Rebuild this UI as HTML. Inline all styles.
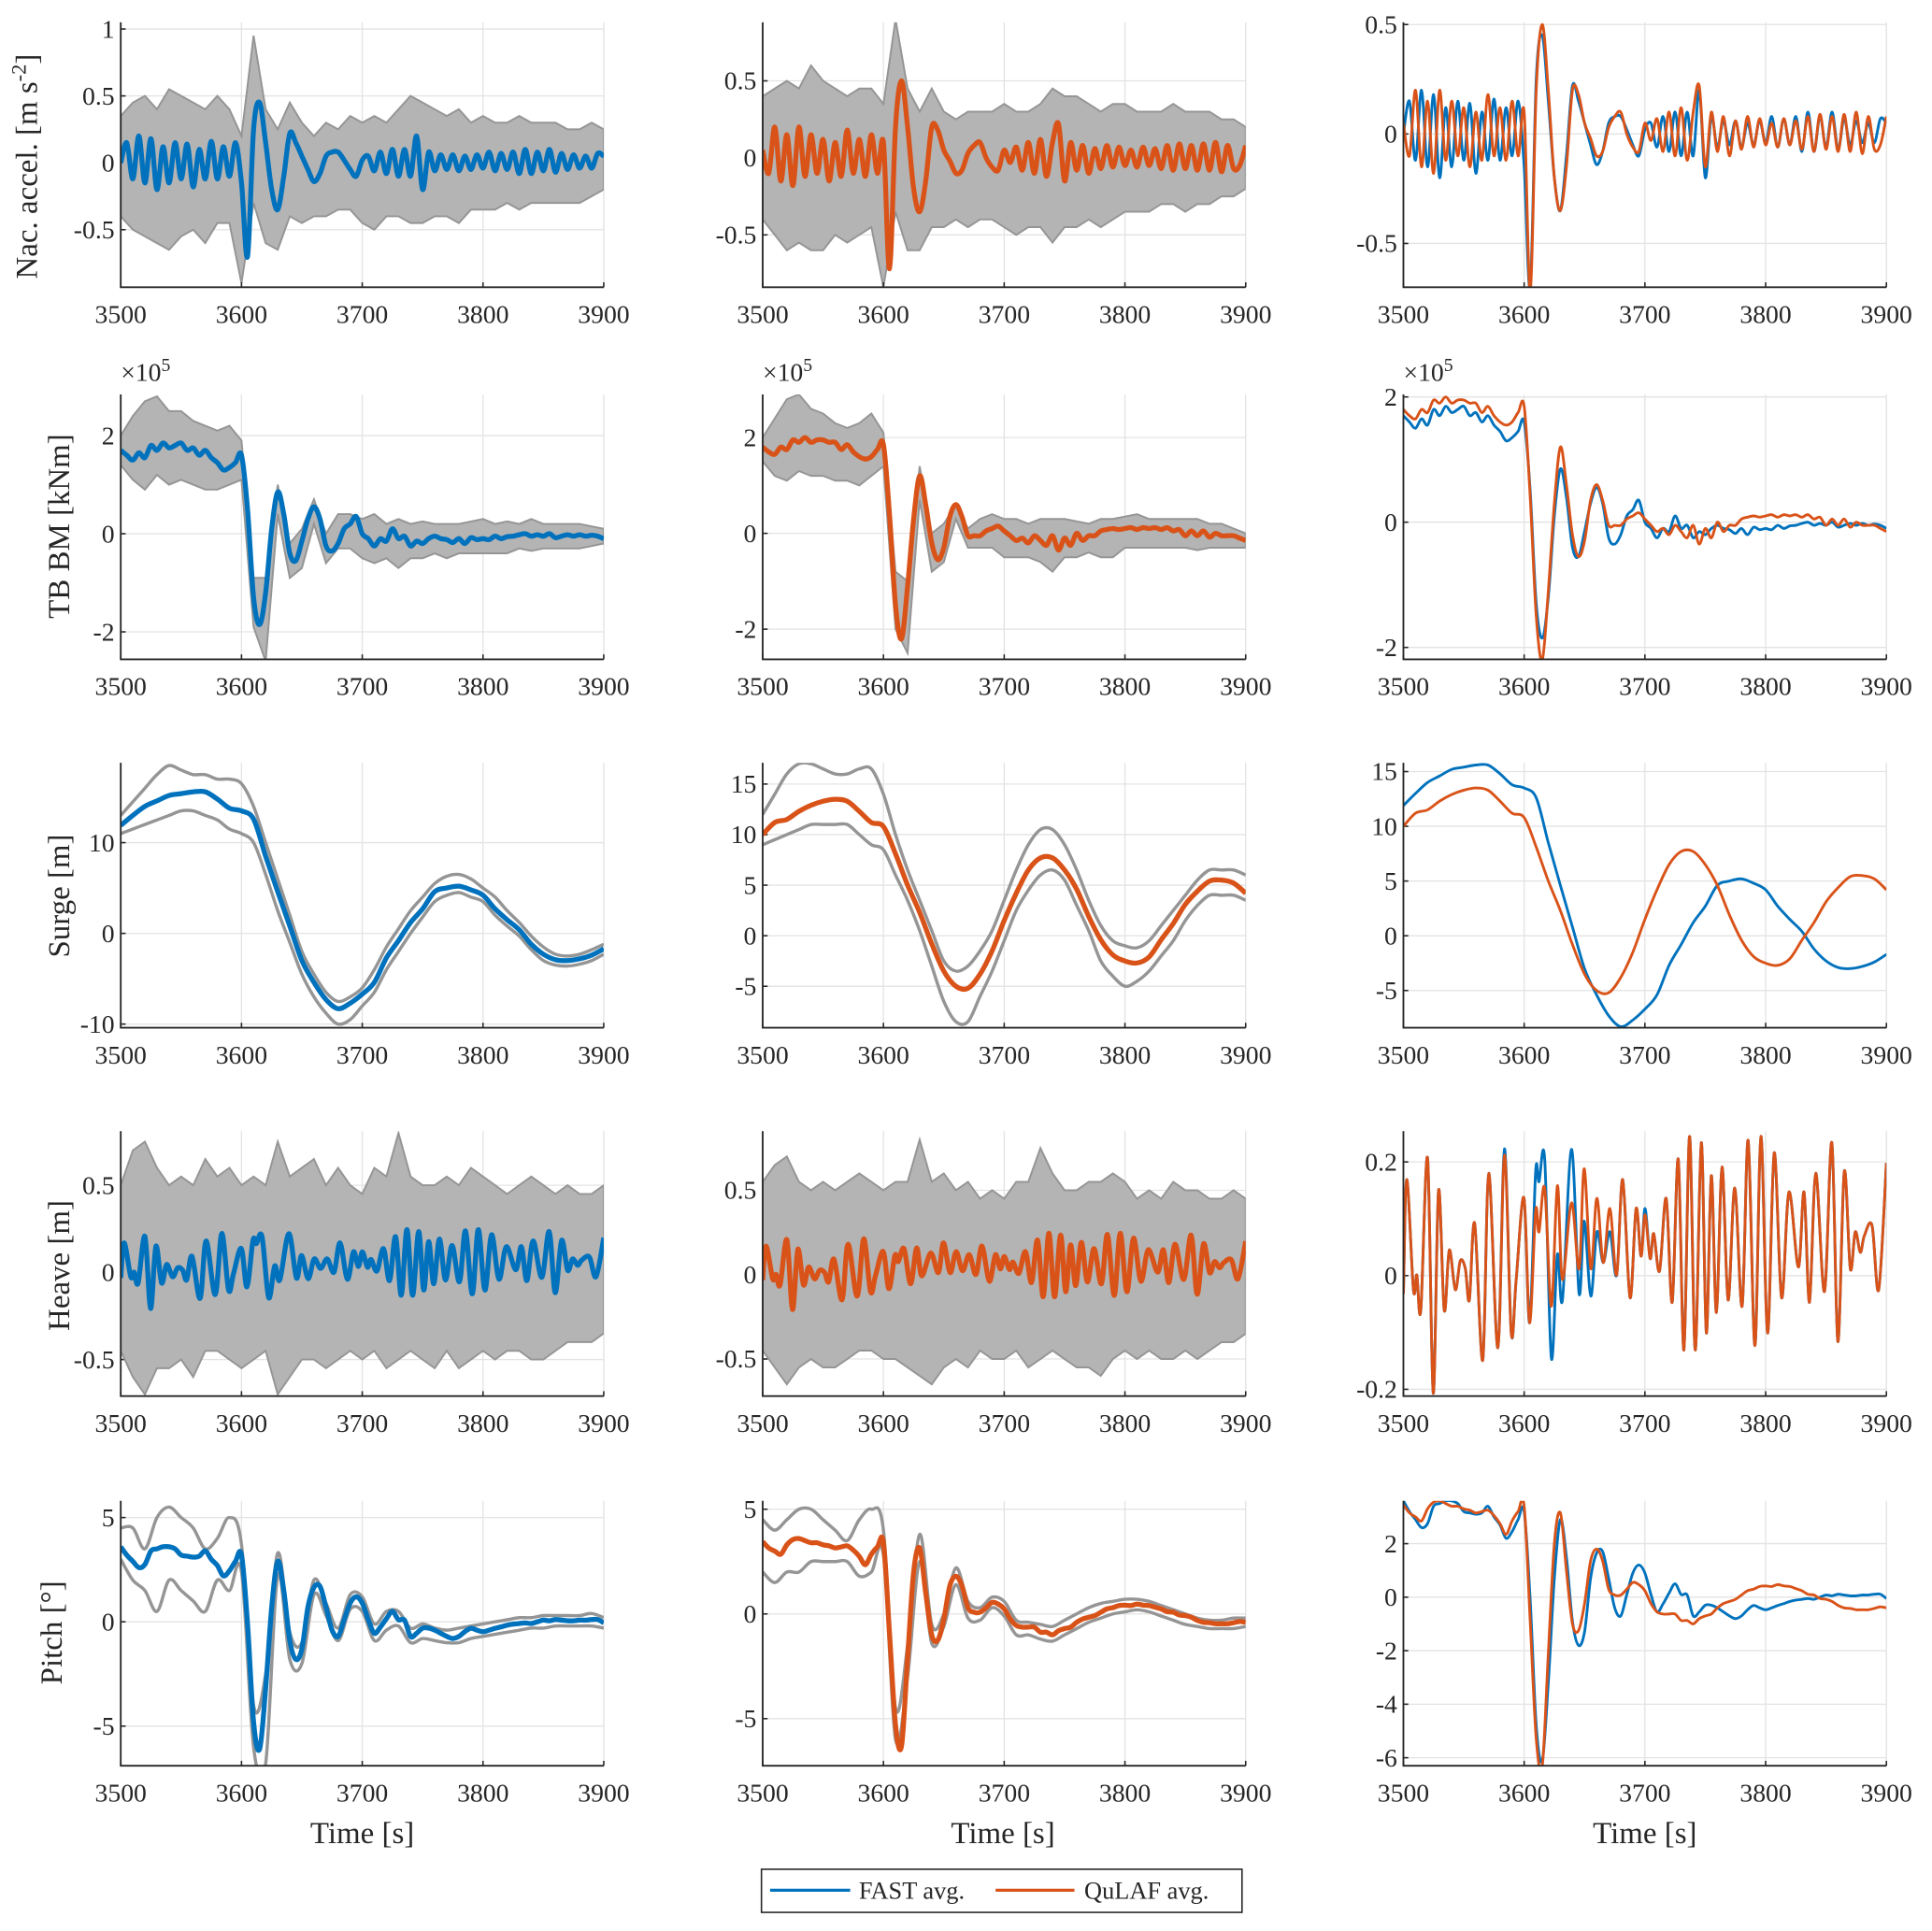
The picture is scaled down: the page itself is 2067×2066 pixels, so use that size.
<!DOCTYPE html>
<html><head><meta charset="utf-8">
<style>
html,body{margin:0;padding:0;background:#fff;}
svg{display:block;font-family:"Liberation Serif",serif;}
</style></head>
<body>
<svg id="fig" xmlns="http://www.w3.org/2000/svg" width="2067" height="2066" viewBox="0 0 1568 1567">
<rect x="0" y="0" width="1568" height="1567" fill="#fff"/>
<g id="panels"></g>
<text x="30" y="135" transform="rotate(-90 30 135)" text-anchor="middle" font-size="25" fill="#262626">Nac. accel. [m s<tspan dy="-9" font-size="17">-2</tspan><tspan dy="9">]</tspan></text>
<text x="56" y="427" transform="rotate(-90 56 427)" text-anchor="middle" font-size="25" fill="#262626">TB BM [kNm]</text>
<text x="56" y="727" transform="rotate(-90 56 727)" text-anchor="middle" font-size="25" fill="#262626">Surge [m]</text>
<text x="56" y="1027" transform="rotate(-90 56 1027)" text-anchor="middle" font-size="25" fill="#262626">Heave [m]</text>
<text x="50" y="1325" transform="rotate(-90 50 1325)" text-anchor="middle" font-size="25" fill="#262626">Pitch [°]</text>
<text x="98" y="309" font-size="21" fill="#262626">×10<tspan dy="-8" font-size="15">5</tspan></text>
<text x="619" y="309" font-size="21" fill="#262626">×10<tspan dy="-8" font-size="15">5</tspan></text>
<text x="1139" y="309" font-size="21" fill="#262626">×10<tspan dy="-8" font-size="15">5</tspan></text>
<text x="294" y="1496" text-anchor="middle" font-size="25" fill="#262626">Time [s]</text>
<text x="814" y="1496" text-anchor="middle" font-size="25" fill="#262626">Time [s]</text>
<text x="1335" y="1496" text-anchor="middle" font-size="25" fill="#262626">Time [s]</text>
<g>
<rect x="618" y="1517" width="390" height="35" fill="#fff" stroke="#262626" stroke-width="1.2"/>
<line x1="625" y1="1534" x2="690" y2="1534" stroke="#0072BD" stroke-width="2.5"/>
<text x="697" y="1541" font-size="20" fill="#262626">FAST avg.</text>
<line x1="808" y1="1534" x2="872" y2="1534" stroke="#D95319" stroke-width="2.5"/>
<text x="880" y="1541" font-size="20" fill="#262626">QuLAF avg.</text>
</g>
</svg>
<script>
// ---------- data (5-s grids 3500..3900 unless noted) ----------
const xTicks = [3500,3600,3700,3800,3900];

const accelF = [0,0.15,-0.12,0.2,-0.15,0.18,-0.2,0.12,-0.15,0.15,
 -0.12,0.14,-0.18,0.1,-0.12,0.16,-0.12,0.12,-0.1,0.15,
 -0.15,-0.7,0.25,0.45,0.15,-0.2,-0.35,-0.1,0.22,0.15,
 0.05,-0.05,-0.14,-0.08,0.05,0.08,0.08,0.02,-0.05,-0.1,
 0.02,0.05,-0.06,0.08,-0.08,0.1,-0.1,0.1,-0.1,0.2,
 -0.2,0.08,-0.06,0.06,-0.05,0.06,-0.06,0.05,-0.05,0.06,
 -0.04,0.08,-0.06,0.07,-0.05,0.08,-0.08,0.1,-0.08,0.08,
 -0.06,0.1,-0.07,0.07,-0.05,0.06,-0.04,0.05,-0.04,0.07,
 0.05];
const accelQ = [0.05,-0.1,0.2,-0.15,0.15,-0.18,0.2,-0.12,0.15,-0.1,
 0.12,-0.15,0.1,-0.12,0.18,-0.1,0.12,-0.12,0.15,-0.1,
 0.1,-0.72,0.2,0.5,0.2,-0.2,-0.35,-0.15,0.2,0.18,
 0.05,-0.02,-0.1,-0.08,0.03,0.08,0.1,0.0,-0.06,-0.08,
 0.05,-0.03,0.07,-0.08,0.1,-0.1,0.12,-0.12,0.1,0.22,
 -0.15,0.1,-0.08,0.08,-0.1,0.06,-0.07,0.08,-0.06,0.07,
 -0.05,0.05,-0.06,0.07,-0.05,0.06,-0.07,0.08,-0.08,0.09,
 -0.07,0.08,-0.08,0.09,-0.08,0.1,-0.09,0.08,-0.07,-0.05,
 0.08];
const accelFHi = [0.35,0.45,0.5,0.4,0.55,0.5,0.45,0.4,0.5,0.4, 0.2,0.95,0.4,0.25,0.45,0.3,0.2,0.3,0.25,0.35, 0.3,0.35,0.3,0.4,0.5,0.45,0.4,0.35,0.4,0.3, 0.35,0.3,0.3,0.35,0.3,0.3,0.3,0.25,0.25,0.3, 0.25];
const accelFLo = [-0.4,-0.5,-0.55,-0.6,-0.65,-0.55,-0.5,-0.6,-0.45,-0.45, -0.9,-0.3,-0.6,-0.65,-0.4,-0.45,-0.4,-0.4,-0.35,-0.35, -0.45,-0.5,-0.4,-0.4,-0.45,-0.45,-0.4,-0.4,-0.45,-0.35, -0.35,-0.35,-0.3,-0.35,-0.3,-0.3,-0.3,-0.3,-0.3,-0.25, -0.2];
const accelQHi = [0.4,0.45,0.5,0.45,0.6,0.5,0.45,0.4,0.45,0.45, 0.35,0.9,0.45,0.3,0.45,0.3,0.25,0.3,0.3,0.3, 0.35,0.3,0.3,0.35,0.45,0.4,0.4,0.35,0.3,0.35, 0.35,0.3,0.3,0.3,0.35,0.3,0.3,0.3,0.25,0.25, 0.2];
const accelQLo = [-0.4,-0.5,-0.6,-0.55,-0.6,-0.6,-0.5,-0.55,-0.5,-0.45, -0.84,-0.35,-0.6,-0.6,-0.45,-0.45,-0.4,-0.45,-0.4,-0.4, -0.45,-0.5,-0.45,-0.45,-0.55,-0.45,-0.45,-0.4,-0.45,-0.4, -0.35,-0.35,-0.35,-0.3,-0.3,-0.35,-0.3,-0.3,-0.25,-0.25, -0.2];

const tbF = [1.7,1.6,1.5,1.65,1.55,1.8,1.7,1.85,1.75,1.8,
 1.85,1.7,1.75,1.6,1.7,1.55,1.45,1.3,1.35,1.45,
 1.6,0.5,-1.3,-1.85,-1.2,0.1,0.85,0.4,-0.4,-0.55,
 -0.15,0.3,0.55,0.3,-0.25,-0.35,-0.2,0.1,0.2,0.35,
 0.0,-0.1,-0.25,-0.1,-0.15,0.1,-0.1,-0.05,-0.25,-0.15,
 -0.2,-0.1,-0.05,-0.1,-0.12,-0.18,-0.1,-0.2,-0.08,-0.12,
 -0.1,-0.12,-0.05,-0.1,-0.06,-0.05,-0.02,0.0,-0.05,-0.02,
 -0.05,0.0,-0.08,-0.05,-0.02,-0.05,-0.02,-0.05,-0.03,-0.05,
 -0.1];
const tbQ = [1.8,1.7,1.65,1.8,1.75,1.95,1.9,2.0,1.9,1.95,
 1.95,1.9,1.9,1.75,1.85,1.7,1.6,1.55,1.6,1.75,
 1.85,0.4,-1.5,-2.2,-1.1,0.3,1.2,0.6,-0.2,-0.55,
 -0.3,0.35,0.6,0.35,-0.05,-0.05,-0.05,0.05,0.1,0.15,
 0.05,-0.05,-0.15,-0.1,-0.2,-0.05,-0.15,-0.25,-0.05,-0.35,
 -0.1,-0.25,0.0,-0.15,-0.05,-0.05,0.05,0.08,0.1,0.08,
 0.1,0.12,0.08,0.12,0.1,0.12,0.08,0.12,0.05,0.08,
 -0.05,0.05,-0.05,0.05,-0.08,0.0,-0.05,-0.05,-0.05,-0.1,
 -0.15];
const tbFHi = [2.0,2.4,2.7,2.8,2.5,2.5,2.3,2.2,2.1,2.2, 1.9,-0.9,-0.9,1.0,-0.2,0.1,0.7,0.0,0.4,0.4, 0.3,0.4,0.2,0.3,0.2,0.25,0.2,0.2,0.2,0.25, 0.3,0.2,0.25,0.2,0.3,0.2,0.2,0.2,0.2,0.15, 0.1];
const tbFLo = [1.4,1.1,0.9,1.2,1.0,1.1,1.0,0.9,0.9,1.0, 1.1,-1.9,-2.6,0.4,-0.9,-0.7,0.2,-0.6,-0.3,-0.3, -0.5,-0.6,-0.5,-0.7,-0.5,-0.5,-0.4,-0.5,-0.4,-0.4, -0.4,-0.4,-0.4,-0.3,-0.35,-0.3,-0.3,-0.3,-0.3,-0.25, -0.2];
const tbQHi = [2.0,2.4,2.8,2.9,2.6,2.5,2.3,2.2,2.3,2.5, 2.1,-0.8,-1.0,1.4,0.0,0.2,0.6,0.1,0.3,0.4, 0.3,0.3,0.2,0.3,0.3,0.3,0.25,0.2,0.3,0.3, 0.35,0.4,0.3,0.3,0.3,0.3,0.3,0.2,0.2,0.1, 0.0];
const tbQLo = [1.5,1.2,1.1,1.3,1.2,1.2,1.1,1.1,1.0,1.2, 1.4,-2.0,-2.5,0.7,-0.8,-0.6,0.3,-0.3,-0.3,-0.3, -0.5,-0.5,-0.5,-0.6,-0.8,-0.5,-0.5,-0.4,-0.5,-0.5, -0.3,-0.3,-0.3,-0.3,-0.3,-0.3,-0.35,-0.3,-0.3,-0.3, -0.3];

const surgeF = [11.9,13,14,14.6,15.2,15.4,15.6,15.6,14.8,13.8, 13.5,12.6,8.5,4.6,0.8,-3,-5.4,-7.3,-8.3,-7.7, -6.7,-5.4,-2.7,-0.8,1.2,2.7,4.6,5,5.2,4.8, 4.2,2.7,1.5,0.4,-1.2,-2.3,-2.9,-3,-2.8,-2.4, -1.7];
const surgeQ = [10,11.2,11.5,12.3,12.9,13.3,13.5,13.3,12.3,11.2, 10.8,8.1,5,2.3,-0.8,-3.5,-5,-5.2,-3.8,-1.5, 1.5,4.2,6.5,7.7,7.7,6.5,4.6,1.9,-0.4,-1.9, -2.5,-2.7,-2.1,-0.4,1.2,3.1,4.4,5.4,5.5,5.2, 4.2];
const surgeFHi = [13,14.5,16,17.5,18.5,18,17.5,17.5,17,17, 16.5,14,10,6,2,-2,-4.5,-6.5,-7.5,-7, -6,-4,-1.5,0.5,2.5,4,5.5,6.3,6.5,6, 5,4,2.5,1.2,-0.3,-1.5,-2.3,-2.5,-2.3,-1.8, -1.2];
const surgeFLo = [11,11.5,12,12.5,13,13.5,13.5,13,12.5,11.5, 11,10,6.5,2.5,-1,-4.5,-7,-8.8,-10,-9.5, -8,-6.5,-4,-2,0,1.8,3.5,4.2,4.5,4, 3.5,2,0.8,-0.3,-1.8,-3,-3.5,-3.6,-3.4,-3, -2.3];
const surgeQHi = [12,14,16,17,17,16.5,16,16,16.5,16.5, 14,10,6.5,3.5,0.5,-2.5,-3.5,-3,-1.5,0.5, 3.5,6.5,9,10.5,10.5,9,6.5,3.5,1,-0.5, -1,-1.2,-0.5,1,2.5,4,5.5,6.5,6.5,6.5, 6];
const surgeQLo = [9,9.5,10,10.5,11,11,11,11,10,9, 8.5,6,3.5,0.5,-3,-6.5,-8.5,-8.5,-6,-3.5, -0.5,2.5,4.5,6,6.5,5.5,3,0.5,-2.5,-4, -5,-4.5,-3.5,-2,-0.5,1.5,3,4,4,4, 3.5];

const heaveT = [3500,3502.8,3508.3,3511.1,3514.4,3520,3524.7,3529.1,3533.8,3538,3543,3547.1,3551.3,3554.6,3559,3565.7,3570.7,3578.2,3583.7,3589.3,3593.4,3599.8,3604.5,3609.5,3612.3,3617,3622.5,3627.5,3631.7,3639.2,3645.5,3649.7,3655.2,3660.2,3665.5,3671,3676.6,3681.6,3687.7,3692.7,3696.8,3700.1,3704.3,3707.3,3712.1,3717.6,3722.6,3727.6,3732.3,3737,3741.7,3746.7,3750.9,3755,3759.2,3763.9,3768.9,3774.4,3780.5,3785.5,3791.1,3796.1,3801.6,3807.1,3813.2,3819.3,3827.1,3831.8,3836.3,3841.5,3848.7,3854.8,3859.8,3865.1,3870.1,3874.2,3878.4,3881.7,3888.1,3893.6,3900];
const heaveQ = [-0.032,0.169,-0.025,0.001,-0.061,0.207,-0.207,0.15,-0.061,0.045,-0.025,0.026,0.012,-0.043,0.092,-0.149,0.18,-0.127,0.212,-0.101,-0.007,0.137,-0.083,0.114,0.077,0.154,-0.054,0.158,-0.007,0.128,0.012,0.188,0.012,0.136,0.023,0.118,0.001,0.169,-0.039,0.118,0.034,0.107,0.03,0.074,0.008,0.136,-0.047,0.205,-0.131,0.245,-0.131,0.234,-0.101,0.176,-0.065,0.191,-0.043,0.154,-0.054,0.238,-0.123,0.245,-0.101,0.216,-0.039,0.147,0.015,0.147,-0.047,0.18,-0.028,0.234,-0.116,0.183,0.012,0.077,0.041,0.07,0.088,-0.025,0.198];
const heaveF = [-0.032,0.169,-0.025,0.001,-0.061,0.207,-0.207,0.15,-0.061,0.045,-0.025,0.026,0.012,-0.043,0.092,-0.149,0.18,-0.127,0.223,-0.101,-0.007,0.137,-0.083,0.183,0.165,0.205,-0.145,0.037,-0.043,0.222,-0.032,0.096,-0.036,0.077,0.023,0.077,0.001,0.169,-0.039,0.118,0.034,0.118,0.03,0.074,0.008,0.136,-0.047,0.205,-0.131,0.245,-0.131,0.234,-0.101,0.176,-0.065,0.191,-0.043,0.154,-0.054,0.238,-0.123,0.245,-0.101,0.216,-0.039,0.147,0.015,0.147,-0.047,0.18,-0.028,0.234,-0.116,0.183,0.012,0.077,0.041,0.07,0.088,-0.025,0.198];
const heaveFHi = [0.5,0.7,0.75,0.6,0.5,0.55,0.5,0.65,0.55,0.6, 0.5,0.55,0.5,0.75,0.55,0.6,0.65,0.5,0.6,0.5, 0.45,0.6,0.55,0.8,0.55,0.5,0.5,0.55,0.5,0.6, 0.55,0.5,0.45,0.5,0.55,0.5,0.45,0.5,0.45,0.45, 0.5];
const heaveFLo = [-0.45,-0.6,-0.7,-0.55,-0.55,-0.5,-0.6,-0.45,-0.45,-0.5, -0.55,-0.5,-0.45,-0.7,-0.6,-0.5,-0.5,-0.55,-0.5,-0.45, -0.5,-0.45,-0.55,-0.5,-0.45,-0.5,-0.55,-0.45,-0.55,-0.5, -0.45,-0.5,-0.45,-0.45,-0.5,-0.5,-0.45,-0.4,-0.4,-0.4, -0.35];
const heaveQHi = [0.55,0.65,0.7,0.55,0.5,0.55,0.5,0.55,0.6,0.55, 0.5,0.55,0.55,0.8,0.55,0.6,0.5,0.55,0.45,0.5, 0.45,0.55,0.55,0.75,0.6,0.5,0.5,0.55,0.55,0.6, 0.55,0.45,0.5,0.45,0.55,0.5,0.5,0.45,0.45,0.5, 0.45];
const heaveQLo = [-0.45,-0.55,-0.65,-0.55,-0.5,-0.55,-0.55,-0.5,-0.45,-0.45, -0.5,-0.5,-0.55,-0.6,-0.65,-0.55,-0.5,-0.55,-0.45,-0.5, -0.5,-0.45,-0.55,-0.5,-0.45,-0.5,-0.55,-0.55,-0.6,-0.5, -0.45,-0.5,-0.45,-0.5,-0.5,-0.45,-0.5,-0.45,-0.4,-0.4, -0.35];

const pitchF = [3.6,3.2,2.9,2.6,2.75,3.4,3.5,3.6,3.6,3.5,
 3.2,3.15,3.1,3.15,3.4,3.0,2.7,2.2,2.45,2.9,
 3.2,-0.1,-4.8,-6.1,-3.2,0.7,2.9,1.5,-0.9,-1.8,
 -1.3,0.7,1.65,1.7,0.7,-0.4,-0.7,0.1,0.9,1.2,
 0.9,0.1,-0.55,-0.25,0.15,0.5,0.1,0.08,-0.7,-0.55,
 -0.3,-0.3,-0.4,-0.55,-0.7,-0.8,-0.7,-0.47,-0.31,-0.4,
 -0.47,-0.4,-0.31,-0.24,-0.16,-0.11,-0.08,-0.05,-0.08,0,
 0.08,0.05,0.11,0.08,0.05,0.05,0.08,0.08,0.11,0.11,
 -0.05];
const pitchQ = [3.45,3.15,3.0,2.85,3.3,3.55,3.6,3.5,3.4,3.4,
 3.3,3.25,3.15,3.2,3.25,3.05,2.75,2.35,2.85,3.2,
 3.4,-0.9,-5.3,-6.3,-2.1,2.0,3.15,1.0,-1.0,-1.25,
 -0.25,1.35,1.8,1.35,0.3,0.08,0.08,0.3,0.55,0.47,
 0.24,-0.24,-0.55,-0.63,-0.63,-0.63,-0.87,-0.87,-1.0,-0.8,
 -0.7,-0.63,-0.4,-0.24,-0.16,-0.08,0.08,0.24,0.3,0.4,
 0.42,0.4,0.47,0.42,0.4,0.32,0.24,0.11,0.08,-0.05,
 -0.08,-0.16,-0.31,-0.4,-0.42,-0.47,-0.47,-0.47,-0.42,-0.36,
 -0.4];
const pitchFHi = [4.5,4.5,3.5,5,5.5,5,4.5,3.5,4,5, 3.7,-4,-2.5,3.3,-0.5,-1,2,0.9,-0.3,1.3, 1.2,-0.1,0.5,0.5,-0.3,-0.1,-0.3,-0.4,-0.3,-0.2, -0.1,0,0.1,0.2,0.2,0.3,0.3,0.3,0.3,0.4, 0.2];
const pitchFLo = [3,2,1.5,0.5,2,1.5,1,0.5,2,1.5, 2.4,-6,-6.8,2.2,-1.8,-2,1.3,0.3,-0.9,0.6, 0.5,-0.9,-0.4,-0.2,-1,-0.8,-0.9,-1,-1,-0.8, -0.7,-0.6,-0.5,-0.4,-0.3,-0.3,-0.2,-0.2,-0.2,-0.2, -0.3];
const pitchQHi = [4.5,4,4.5,5,5,4.5,4,3.5,4.5,5, 4,-4.5,-1.5,3.8,-0.5,0,2.2,0.6,0.3,0.8, 0.6,-0.3,-0.4,-0.5,-0.6,-0.3,0,0.3,0.5,0.6, 0.7,0.7,0.6,0.4,0.2,0,-0.2,-0.3,-0.3,-0.2, -0.2];
const pitchQLo = [2,1.5,2,2,2.5,2.5,2.5,2.5,1.8,2, 2.8,-6,-3,2.5,-1.4,-0.6,1.4,-0.2,-0.3,0.3, -0.1,-1,-1,-1.2,-1.3,-1,-0.7,-0.4,-0.2,0, 0.1,0.2,0.1,-0.1,-0.3,-0.5,-0.6,-0.7,-0.7,-0.7, -0.6];

const yLims = [
 [[-0.93,1.05],[-0.84,0.88],[-0.70,0.51]],
 [[-2.56,2.84],[-2.63,2.9],[-2.19,2.04]],
 [[-10.4,18.8],[-9.1,17.1],[-8.4,15.8]],
 [[-0.71,0.81],[-0.72,0.85],[-0.212,0.254]],
 [[-6.9,5.8],[-7.25,5.4],[-6.3,3.6]]
];
const yTicks = [
 [[-0.5,0,0.5,1],[-0.5,0,0.5],[-0.5,0,0.5]],
 [[-2,0,2],[-2,0,2],[-2,0,2]],
 [[-10,0,10],[-5,0,5,10,15],[-5,0,5,10,15]],
 [[-0.5,0,0.5],[-0.5,0,0.5],[-0.2,0,0.2]],
 [[-5,0,5],[-5,0,5],[-6,-4,-2,0,2]]
];
const rowNames = ['nac-accel','tb-bm','surge','heave','pitch'];

const NS = 'http://www.w3.org/2000/svg';
const X0 = [98,619,1139], Y0 = [18,320,619,918,1218], W = 392, H = 215;
const BLUE = '#0072BD', ORANGE = '#D95319', GREY = '#959595';
const root = document.getElementById('panels');

function mk(tag, attrs, parent){
  const e = document.createElementNS(NS, tag);
  for (const k in attrs) e.setAttribute(k, attrs[k]);
  parent.appendChild(e);
  return e;
}
function xScale(c, t){ return X0[c] + (t - 3500) / 400 * W; }
function yScale(r, c, v){ const L = yLims[r][c]; return Y0[r] + (L[1] - v) / (L[1] - L[0]) * H; }
function pts(r, c, vals, times){
  const n = vals.length;
  return vals.map((v, i) => [xScale(c, times ? times[i] : 3500 + 400 * i / (n - 1)), yScale(r, c, v)]);
}
function smoothPath(p){
  let d = 'M' + p[0][0].toFixed(2) + ',' + p[0][1].toFixed(2);
  for (let i = 0; i < p.length - 1; i++){
    const p0 = p[Math.max(0, i - 1)], p1 = p[i], p2 = p[i + 1], p3 = p[Math.min(p.length - 1, i + 2)];
    const c1 = [p1[0] + (p2[0] - p0[0]) / 6, p1[1] + (p2[1] - p0[1]) / 6];
    const c2 = [p2[0] - (p3[0] - p1[0]) / 6, p2[1] - (p3[1] - p1[1]) / 6];
    d += 'C' + c1[0].toFixed(2) + ',' + c1[1].toFixed(2) + ' ' + c2[0].toFixed(2) + ',' + c2[1].toFixed(2) + ' ' + p2[0].toFixed(2) + ',' + p2[1].toFixed(2);
  }
  return d;
}
function linePath(p){ return 'M' + p.map(q => q[0].toFixed(2) + ',' + q[1].toFixed(2)).join('L'); }

function drawAxes(r, c, g){
  const x0 = X0[c], y0 = Y0[r];
  yTicks[r][c].forEach(v => {
    const y = yScale(r, c, v);
    const gl = mk('line', {x1: x0, y1: y, x2: x0 + W, y2: y, stroke: '#e3e3e3', 'stroke-width': 1}, g);
    
    
    const tk = mk('line', {x1: x0, y1: y, x2: x0 + 4, y2: y, stroke: '#262626', 'stroke-width': 1.2}, g);
    
    
    const tx = mk('text', {x: x0 - 5, y: y + 7, 'text-anchor': 'end', 'font-size': 21, fill: '#262626'}, g);
    tx.textContent = String(v);
    
    
  });
  xTicks.forEach(t => {
    const x = xScale(c, t);
    const gl = mk('line', {x1: x, y1: y0, x2: x, y2: y0 + H, stroke: '#e3e3e3', 'stroke-width': 1}, g);
    
    
  });
}
function drawFrame(r, c, g){
  const x0 = X0[c], y0 = Y0[r];
  xTicks.forEach(t => {
    const x = xScale(c, t);
    const tk = mk('line', {x1: x, y1: y0 + H, x2: x, y2: y0 + H - 4, stroke: '#262626', 'stroke-width': 1.2}, g);
    
    
    const tx = mk('text', {x: x, y: y0 + H + 29, 'text-anchor': 'middle', 'font-size': 21, fill: '#262626'}, g);
    tx.textContent = String(t);
    
    
  });
  const ax = mk('path', {d: 'M' + x0 + ',' + y0 + 'V' + (y0 + H) + 'H' + (x0 + W), fill: 'none', stroke: '#262626', 'stroke-width': 1.4}, g);
  
  
}

const vars = [
 {mF: accelF, mQ: accelQ, fh: accelFHi, fl: accelFLo, qh: accelQHi, ql: accelQLo, band: true},
 {mF: tbF, mQ: tbQ, fh: tbFHi, fl: tbFLo, qh: tbQHi, ql: tbQLo, band: true},
 {mF: surgeF, mQ: surgeQ, fh: surgeFHi, fl: surgeFLo, qh: surgeQHi, ql: surgeQLo, band: false},
 {mF: heaveF, mQ: heaveQ, fh: heaveFHi, fl: heaveFLo, qh: heaveQHi, ql: heaveQLo, band: true, t: heaveT},
 {mF: pitchF, mQ: pitchQ, fh: pitchFHi, fl: pitchFLo, qh: pitchQHi, ql: pitchQLo, band: false}
];

for (let r = 0; r < 5; r++){
  for (let c = 0; c < 3; c++){
    const g = mk('g', {}, root);
    
    
    drawAxes(r, c, g);
    const cid = 'clip' + r + c;
    const cp = mk('clipPath', {id: cid}, g);
    mk('rect', {x: X0[c], y: Y0[r], width: W, height: H}, cp);
    const dg = mk('g', {'clip-path': 'url(#' + cid + ')'}, g);
    
    
    const V = vars[r];
    if (c < 2){
      const hi = c === 0 ? V.fh : V.qh, lo = c === 0 ? V.fl : V.ql;
      const ph = pts(r, c, hi), pl = pts(r, c, lo);
      if (V.band){
        const band = mk('path', {d: linePath(ph) + 'L' + linePath(pl.slice().reverse()).slice(1) + 'Z', fill: '#b4b4b4', stroke: GREY, 'stroke-width': 1.5}, dg);
        
        
      } else {
        const l1 = mk('path', {d: smoothPath(ph), fill: 'none', stroke: GREY, 'stroke-width': 2.6}, dg);
        
        
        const l2 = mk('path', {d: smoothPath(pl), fill: 'none', stroke: GREY, 'stroke-width': 2.6}, dg);
        
        
      }
      const mean = c === 0 ? V.mF : V.mQ;
      const ml = mk('path', {d: smoothPath(pts(r, c, mean, V.t)), fill: 'none', stroke: c === 0 ? BLUE : ORANGE, 'stroke-width': 4, 'stroke-linejoin': 'round'}, dg);
      
      
    } else {
      const fl = mk('path', {d: smoothPath(pts(r, c, V.mF, V.t)), fill: 'none', stroke: BLUE, 'stroke-width': 2.2}, dg);
      
      
      const ql = mk('path', {d: smoothPath(pts(r, c, V.mQ, V.t)), fill: 'none', stroke: ORANGE, 'stroke-width': 2.2}, dg);
      
      
    }
    drawFrame(r, c, g);
  }
}
</script>
</body></html>
